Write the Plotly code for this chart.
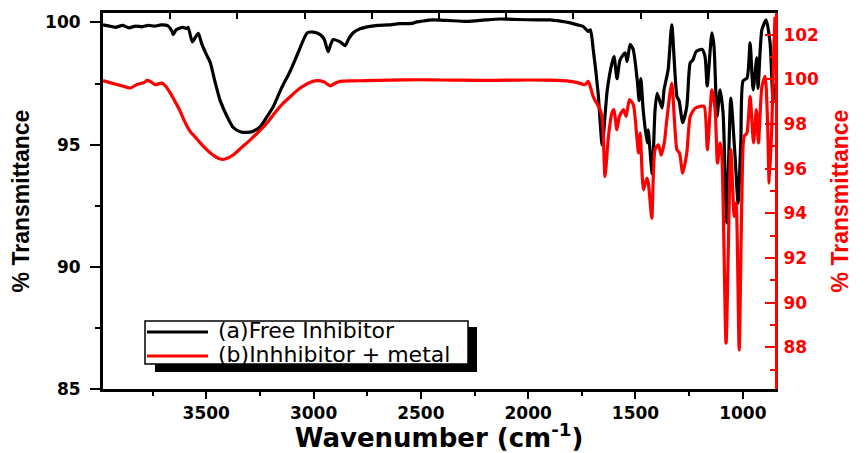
import plotly.graph_objects as go

# ---- data ----
wn_free = [3981, 3950, 3920, 3890, 3860, 3830, 3800, 3770, 3740, 3710, 3680, 3660, 3654, 3640,
           3610, 3590, 3584, 3565, 3550, 3537, 3520, 3500, 3481, 3460, 3435, 3400, 3374, 3342,
           3310, 3281, 3248, 3220, 3188, 3150, 3109, 3070, 3030, 3000, 2969, 2950, 2932, 2920,
           2908, 2876, 2853, 2835, 2815, 2780, 2736, 2700, 2650, 2600, 2540, 2520, 2503, 2443,
           2380, 2284, 2200, 2130, 2050, 1960, 1898, 1850, 1804, 1770, 1744, 1721, 1710, 1697,
           1674, 1655, 1632, 1609, 1600, 1586, 1572, 1548, 1539, 1525, 1511, 1492, 1483, 1475,
           1464, 1446, 1441, 1422, 1409, 1399, 1376, 1367, 1348, 1331, 1307, 1297, 1280, 1261,
           1245, 1232, 1218, 1191, 1176, 1166, 1144, 1134, 1120, 1106, 1092, 1075, 1056, 1036,
           1022, 1009, 999, 980, 966, 952, 935, 929, 911, 891, 873, 859, 850]
t_free = [99.90, 99.85, 99.80, 99.88, 99.78, 99.85, 99.82, 99.88, 99.85, 99.90, 99.87, 99.65, 99.50, 99.70,
          99.80, 99.75, 99.80, 99.20, 99.40, 99.55, 99.10, 98.70, 98.35, 97.60, 96.80, 96.10, 95.70, 95.53,
          95.50, 95.55, 95.73, 96.10, 96.55, 97.30, 98.00, 98.80, 99.57, 99.60, 99.50, 99.30, 98.80, 99.10,
          99.30, 99.20, 99.05, 99.35, 99.58, 99.75, 99.84, 99.88, 99.90, 99.95, 99.96, 100.02, 100.04, 100.10,
          100.08, 100.04, 100.10, 100.14, 100.12, 100.10, 100.10, 100.05, 99.98, 99.90, 99.84, 99.63, 99.70, 98.90,
          97.10, 94.99, 97.20, 98.35, 98.60, 97.70, 98.47, 98.75, 98.40, 99.10, 98.90, 97.65, 96.80, 97.70,
          96.40, 95.07, 95.60, 93.80, 96.40, 97.10, 96.50, 97.24, 98.06, 99.90, 96.97, 96.80, 95.90, 96.56,
          98.35, 98.47, 98.80, 98.90, 98.60, 97.40, 99.57, 99.00, 96.15, 97.24, 96.30, 91.80, 96.90, 94.50,
          92.60, 95.20, 97.60, 97.73, 99.16, 97.24, 98.55, 97.30, 99.70, 100.10, 99.17, 96.80, 97.50]

wn_metal = [3981, 3950, 3920, 3890, 3854, 3820, 3790, 3776, 3760, 3738, 3706, 3690, 3668, 3645,
            3621, 3600, 3575, 3550, 3528, 3481, 3435, 3411, 3373, 3335, 3295, 3256, 3217, 3180,
            3140, 3100, 3062, 3020, 2984, 2950, 2922, 2900, 2876, 2820, 2751, 2650, 2500, 2400,
            2300, 2200, 2100, 2000, 1900, 1804, 1770, 1735, 1720, 1697, 1665, 1654, 1642, 1626,
            1610, 1600, 1587, 1575, 1556, 1544, 1528, 1510, 1494, 1486, 1478, 1463, 1447, 1440,
            1424, 1409, 1393, 1380, 1366, 1354, 1331, 1307, 1295, 1280, 1261, 1245, 1222, 1199,
            1180, 1165, 1144, 1129, 1118, 1106, 1098, 1078, 1056, 1040, 1031, 1017, 1004, 994,
            981, 966, 950, 937, 927, 911, 896, 885, 877, 865, 855, 850]
t_metal = [99.94, 99.85, 99.78, 99.70, 99.61, 99.78, 99.85, 99.95, 99.90, 99.76, 99.83, 99.70, 99.39, 99.00,
           98.56, 98.10, 97.67, 97.40, 97.15, 96.70, 96.43, 96.43, 96.62, 96.95, 97.29, 97.65, 98.04, 98.50,
           98.94, 99.30, 99.61, 99.85, 99.94, 99.88, 99.71, 99.82, 99.91, 99.93, 99.94, 99.96, 99.98, 99.97,
           99.96, 99.95, 99.96, 99.97, 99.96, 99.91, 99.85, 99.76, 99.91, 99.23, 98.64, 98.19, 95.65, 97.44,
           98.49, 98.64, 97.74, 98.34, 98.64, 98.34, 99.09, 98.86, 97.44, 96.70, 97.59, 95.05, 95.58, 95.35,
           93.78, 96.85, 97.07, 96.60, 97.15, 98.19, 99.83, 96.85, 96.70, 95.80, 96.70, 98.34, 98.71, 98.79,
           98.79, 96.85, 99.53, 98.64, 96.25, 97.15, 96.70, 88.18, 96.85, 93.86, 94.46, 87.88, 94.90, 97.44,
           97.59, 99.23, 97.15, 98.64, 97.15, 99.68, 100.13, 98.19, 95.35, 97.89, 101.50, 102.80]

x_ticks = [3500, 3000, 2500, 2000, 1500, 1000]
x_minor = [3750, 3250, 2750, 2250, 1750, 1250]
y_left_ticks = [85, 90, 95, 100]
y_left_minor = [87.5, 92.5, 97.5]
y_right_ticks = [88, 90, 92, 94, 96, 98, 100, 102]
y_right_minor = [87, 89, 91, 93, 95, 97, 99, 101]
top_ticks = [1, 2, 3, 4, 5, 6, 7, 8, 9]
legend_names = ["(a)Free Inhibitor", "(b)Inhhibitor + metal"]
colors = ["black", "#ff0000"]

TICKFONT = "DejaVu Sans"
fig = go.Figure()
fig.add_trace(go.Scatter(x=wn_free, y=t_free, mode="lines", name=legend_names[0],
                         line=dict(color=colors[0], width=3.2, shape="spline", smoothing=0.6),
                         showlegend=False, yaxis="y"))
fig.add_trace(go.Scatter(x=wn_metal, y=t_metal, mode="lines", name=legend_names[1],
                         line=dict(color=colors[1], width=3.2, shape="spline", smoothing=0.6),
                         showlegend=False, yaxis="y2"))
# invisible trace so that the top frame axis is drawn
fig.add_trace(go.Scatter(x=[None], y=[None], xaxis="x2", yaxis="y", showlegend=False,
                         hoverinfo="skip", mode="lines"))

fig.update_layout(
    width=866, height=453,
    margin=dict(l=103, r=91, t=13, b=64),
    paper_bgcolor="white", plot_bgcolor="white",
    xaxis=dict(range=[3981, 850], tickvals=x_ticks, showgrid=False, zeroline=False,
               showline=True, linecolor="black", linewidth=3, automargin=False,
               ticks="outside", ticklen=7, tickwidth=2, tickcolor="black",
               minor=dict(tickvals=x_minor, ticks="outside", ticklen=4, tickwidth=2, tickcolor="black"),
               tickfont=dict(family=TICKFONT, size=17, color="black", weight="bold"),
               title=dict(text="<b>Wavenumber (cm<sup>-1</sup>)</b>", standoff=9,
                          font=dict(family=TICKFONT, size=26, color="black"))),
    xaxis2=dict(range=[0, 10], overlaying="x", side="top", anchor="y", tickvals=top_ticks,
                showticklabels=False, showgrid=False, zeroline=False, automargin=False,
                showline=True, linecolor="black", linewidth=3,
                ticks="inside", ticklen=6, tickwidth=2, tickcolor="black"),
    yaxis=dict(range=[85, 100.385], tickvals=y_left_ticks, showgrid=False, zeroline=False,
               showline=True, linecolor="black", linewidth=3, automargin=False,
               ticks="outside", ticklen=10, tickwidth=2, tickcolor="black",
               minor=dict(tickvals=y_left_minor, ticks="outside", ticklen=5, tickwidth=2, tickcolor="black"),
               tickfont=dict(family=TICKFONT, size=17, color="black", weight="bold"),
               ticklabelstandoff=6,
               title=dict(text="<b>% Transmittance</b>", standoff=10,
                          font=dict(family="Liberation Sans", size=23, color="black"))),
    yaxis2=dict(range=[86.13, 102.97], overlaying="y", side="right", anchor="x",
                tickvals=y_right_ticks, showgrid=False, zeroline=False, automargin=False,
                showline=True, linecolor="#ff0000", linewidth=3,
                ticks="inside", ticklen=10, tickwidth=2, tickcolor="#ff0000",
                minor=dict(tickvals=y_right_minor, ticks="inside", ticklen=5, tickwidth=2, tickcolor="#ff0000"),
                tickfont=dict(family=TICKFONT, size=17, color="#ff0000", weight="bold"),
                ticklabelstandoff=2,
                title=dict(text="<b>% Transmittance</b>", standoff=14,
                           font=dict(family="Liberation Sans", size=23, color="#ff0000"))),
)

# hand-drawn legend box (paper coordinates from pixel positions)
x0p, x1p, y0p, y1p = 103, 775, 13, 389
def px(x):
    return (x - x0p) / (x1p - x0p)
def py(y):
    return (y1p - y) / (y1p - y0p)

fig.add_shape(type="rect", xref="paper", yref="paper", x0=px(155), x1=px(477), y0=py(372), y1=py(327),
              fillcolor="black", line=dict(width=0), layer="above")
fig.add_shape(type="rect", xref="paper", yref="paper", x0=px(145), x1=px(468), y0=py(364), y1=py(321),
              fillcolor="white", line=dict(color="black", width=1.5), layer="above")
rows = [332, 356]
for name, col, ry in zip(legend_names, colors, rows):
    fig.add_shape(type="line", xref="paper", yref="paper", x0=px(147), x1=px(208), y0=py(ry), y1=py(ry),
                  line=dict(color=col, width=3), layer="above")
    fig.add_annotation(xref="paper", yref="paper", x=px(216), y=py(ry - 2), text=name, showarrow=False,
                       xanchor="left", yanchor="middle",
                       font=dict(family="DejaVu Sans", size=22, color="black"))

fig.write_html("out.html")
